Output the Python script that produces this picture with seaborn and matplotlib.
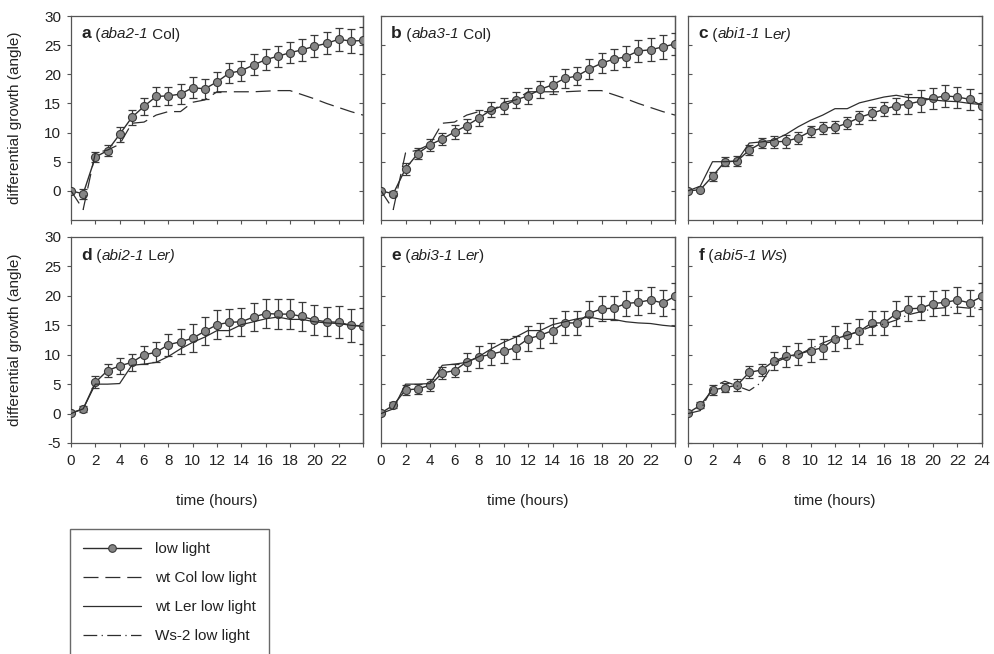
import numpy as np
import pandas as pd
import matplotlib
matplotlib.use("Agg")
import matplotlib.pyplot as plt
import seaborn as sns
from matplotlib.lines import Line2D

# ---------------- data ----------------
hours = list(range(25))

aba2_mean = [0.0, -0.5, 5.8, 6.9, 9.7, 12.6, 14.5, 16.2, 16.3, 16.6, 17.7, 17.5, 18.7,
             20.2, 20.6, 21.6, 22.5, 23.1, 23.7, 24.2, 24.8, 25.3, 26.0, 25.7, 25.8]
aba2_err = [0.0, 0.9, 0.9, 0.9, 1.3, 1.3, 1.4, 1.6, 1.6, 1.7, 1.8, 1.7, 1.7,
            1.7, 1.7, 1.8, 1.8, 1.8, 1.8, 1.9, 1.9, 1.9, 2.0, 2.1, 2.3]

aba3_mean = [0.0, -0.5, 3.8, 6.4, 7.9, 8.9, 10.1, 11.2, 12.5, 13.9, 14.6, 15.6, 16.3,
             17.4, 18.2, 19.3, 19.7, 20.9, 21.9, 22.6, 23.0, 24.0, 24.2, 24.7, 25.2]
aba3_err = [0.0, 0.4, 1.0, 0.9, 1.0, 1.1, 1.2, 1.2, 1.3, 1.3, 1.4, 1.4, 1.4,
            1.5, 1.5, 1.6, 1.6, 1.7, 1.7, 1.8, 1.8, 1.9, 2.0, 2.0, 1.9]

abi1_mean = [0.0, 0.2, 2.5, 5.0, 5.1, 7.0, 8.2, 8.4, 8.5, 9.1, 10.2, 10.8, 10.9,
             11.6, 12.6, 13.3, 14.0, 14.6, 14.9, 15.4, 15.9, 16.3, 16.1, 15.7, 14.6]
abi1_err = [0.0, 0.2, 0.8, 0.8, 0.8, 0.9, 0.9, 1.0, 1.1, 1.0, 1.0, 1.0, 1.0,
            1.0, 1.1, 1.1, 1.2, 1.4, 1.7, 1.9, 1.8, 1.9, 1.8, 1.8, 2.2]

abi2_mean = [0.1, 0.8, 5.3, 7.3, 8.1, 8.7, 10.0, 10.4, 11.7, 12.2, 12.8, 14.0, 15.1,
             15.5, 15.6, 16.4, 17.0, 16.9, 16.9, 16.5, 15.9, 15.6, 15.5, 15.0, 14.9]
abi2_err = [0.0, 0.5, 1.0, 1.1, 1.4, 1.5, 1.5, 1.7, 1.9, 2.1, 2.4, 2.4, 2.5,
            2.3, 2.4, 2.4, 2.4, 2.5, 2.5, 2.5, 2.5, 2.5, 2.7, 2.8, 3.0]

abi3_mean = [0.1, 1.4, 4.0, 4.2, 4.8, 6.9, 7.3, 8.8, 9.6, 10.1, 10.6, 11.2, 12.7,
             13.3, 14.1, 15.4, 15.4, 17.0, 17.8, 17.9, 18.7, 18.9, 19.3, 18.8, 19.9]
abi3_err = [0.0, 0.5, 0.8, 0.8, 1.0, 1.0, 1.1, 1.5, 1.8, 1.9, 2.0, 2.0, 2.1,
            2.1, 2.1, 2.1, 2.1, 2.1, 2.1, 2.0, 2.1, 2.1, 2.2, 2.2, 2.2]

abi5_mean = [0.1, 1.4, 4.0, 4.4, 4.8, 7.0, 7.4, 8.9, 9.7, 10.1, 10.7, 11.2, 12.7,
             13.3, 14.0, 15.4, 15.4, 17.0, 17.8, 17.9, 18.7, 18.9, 19.3, 18.8, 19.9]
abi5_err = [0.0, 0.5, 0.8, 0.8, 1.0, 1.0, 1.1, 1.5, 1.8, 1.9, 2.0, 2.0, 2.1,
            2.1, 2.1, 2.1, 2.1, 2.1, 2.1, 2.0, 2.1, 2.1, 2.2, 2.2, 2.2]

wt_col = [0.0, -3.2, 6.5, 7.0, 8.0, 11.6, 11.8, 13.0, 13.6, 13.6, 15.2, 15.6, 17.0,
          17.0, 17.0, 17.0, 17.1, 17.2, 17.2, 16.5, 15.8, 15.0, 14.3, 13.6, 13.0]
wt_ler = [0.0, 0.8, 5.0, 5.0, 5.1, 8.2, 8.4, 8.7, 9.7, 11.0, 12.1, 13.0, 14.1,
          14.1, 15.1, 15.6, 16.1, 16.4, 16.0, 16.0, 15.6, 15.4, 15.3, 15.0, 14.8]
ws2 = [0.0, 0.5, 4.5, 5.5, 4.7, 3.9, 5.3, 8.6, 9.5, 10.0, 11.0, 12.0, 12.8,
       13.3, 14.0, 14.8, 15.2, 15.9, 16.8, 17.3, 17.8, 18.0, 18.1, 17.9, 18.0]

legend_labels = ["low light", "wt Col low light", "wt Ler low light", "Ws-2 low light"]

# ---------------- style ----------------
sns.set_theme(style="ticks")
plt.rcParams["font.family"] = ["Liberation Sans", "DejaVu Sans"]
TXT = "#222222"
SPINE = "#555555"
plt.rcParams.update({
    "text.color": TXT, "axes.labelcolor": TXT,
    "xtick.color": SPINE, "ytick.color": SPINE,
    "xtick.labelcolor": TXT, "ytick.labelcolor": TXT,
    "axes.unicode_minus": False,
})
FS = 11

LINE = "#2e2e2e"
MFACE = "#858585"
MEDGE = "#3a3a3a"
DASH = (0, (12, 5.5))
DASHDOT = (0, (11, 3.5, 1, 3.5))

W, H = 994, 654
fig = plt.figure(figsize=(W / 100, H / 100), dpi=100)

cols_px = [(71, 363), (381, 675), (688, 982)]
rows_px = [(16, 220), (237, 443)]

panels = [
    dict(mean=aba2_mean, err=aba2_err, wt=wt_col, ls=DASH,
         title=[("a", "bold"), (" (", "normal"), ("aba2-1", "italic"), (" Col)", "normal")]),
    dict(mean=aba3_mean, err=aba3_err, wt=wt_col, ls=DASH,
         title=[("b", "bold"), (" (", "normal"), ("aba3-1", "italic"), (" Col)", "normal")]),
    dict(mean=abi1_mean, err=abi1_err, wt=wt_ler, ls="-",
         title=[("c", "bold"), (" (", "normal"), ("abi1-1", "italic"), (" L", "normal"), ("er)", "italic")]),
    dict(mean=abi2_mean, err=abi2_err, wt=wt_ler, ls="-",
         title=[("d", "bold"), (" (", "normal"), ("abi2-1", "italic"), (" L", "normal"), ("er)", "italic")]),
    dict(mean=abi3_mean, err=abi3_err, wt=wt_ler, ls="-",
         title=[("e", "bold"), (" (", "normal"), ("abi3-1", "italic"), (" L", "normal"), ("er", "italic"), (")", "normal")]),
    dict(mean=abi5_mean, err=abi5_err, wt=ws2, ls=DASHDOT,
         title=[("f", "bold"), (" (", "normal"), ("abi5-1 Ws", "italic"), (")", "normal")]),
]

for i, p in enumerate(panels):
    r, c = divmod(i, 3)
    x0, x1 = cols_px[c]
    y0, y1 = rows_px[r]
    ax = fig.add_axes([x0 / W, 1 - y1 / H, (x1 - x0) / W, (y1 - y0) / H])

    df = pd.DataFrame({"hour": hours, "mean": p["mean"], "err": p["err"], "wt": p["wt"]})

    ax.errorbar(df["hour"], df["mean"], yerr=df["err"], fmt="none", ecolor=MEDGE,
                elinewidth=0.9, capsize=2.8, capthick=0.9, zorder=3)
    sns.lineplot(data=df, x="hour", y="mean", ax=ax, color=LINE, lw=1.0, marker="o",
                 markersize=5.8, markerfacecolor=MFACE, markeredgecolor=MEDGE,
                 markeredgewidth=0.8, errorbar=None, zorder=4)
    sns.lineplot(data=df, x="hour", y="wt", ax=ax, color=LINE, lw=0.9,
                 linestyle=p["ls"], errorbar=None, zorder=5)

    ax.set_xlim(0, 24)
    ax.set_ylim(-5, 30)
    ax.set_xticks(range(0, 25, 2))
    if r == 0:
        ax.set_yticks(range(0, 31, 5))
        ax.set_xticklabels([])
        ax.set_xlabel("")
    else:
        ax.set_yticks(range(-5, 31, 5))
        labs = [str(v) for v in range(0, 25, 2)]
        if c < 2:
            labs[-1] = ""
        ax.set_xticklabels(labs, fontsize=FS)
        ax.set_xlabel("time (hours)", fontsize=FS, labelpad=19)

    ax.tick_params(axis="x", direction="out", length=3, width=0.8, pad=5)
    if c == 0:
        ax.tick_params(axis="y", direction="out", length=3, width=0.8, pad=4, labelsize=FS)
        ax.set_ylabel("differential growth (angle)", fontsize=FS, labelpad=16)
    else:
        ax.tick_params(axis="y", direction="in", length=3, width=0.8, labelleft=False)
        ax.set_ylabel("")
    sec = ax.secondary_yaxis("right")
    sec.set_yticks(ax.get_yticks())
    sec.tick_params(direction="in", length=3, width=0.8, labelright=False, color=SPINE)
    sec.spines["right"].set_color(SPINE)
    sec.spines["right"].set_linewidth(0.9)

    for s in ax.spines.values():
        s.set_visible(True)
        s.set_color(SPINE)
        s.set_linewidth(0.9)

    # composite panel title
    prev = None
    for txt, style in p["title"]:
        kw = dict(fontsize=12.5 if style == "bold" else FS, color=TXT)
        if style == "bold":
            kw["fontweight"] = "bold"
        if style == "italic":
            kw["fontstyle"] = "italic"
        if prev is None:
            prev = ax.text(0.035, 0.875, txt, transform=ax.transAxes, ha="left", va="bottom", **kw)
        else:
            prev = ax.annotate(txt, xy=(1, 0), xycoords=prev, ha="left", va="bottom", **kw)

# legend
handles = [
    Line2D([0], [0], color=LINE, lw=1.0, marker="o", markersize=5.5,
           markerfacecolor=MFACE, markeredgecolor=MEDGE, markeredgewidth=0.8),
    Line2D([0], [0], color=LINE, lw=0.9, linestyle=DASH),
    Line2D([0], [0], color=LINE, lw=0.9, linestyle="-"),
    Line2D([0], [0], color=LINE, lw=0.9, linestyle=DASHDOT),
]
leg = fig.legend(handles, legend_labels, loc="upper left",
                 bbox_to_anchor=(70 / W, 1 - 529 / H), bbox_transform=fig.transFigure,
                 frameon=True, fancybox=False, edgecolor="#444444", fontsize=FS,
                 handlelength=3.8, handletextpad=0.9, labelspacing=0.98,
                 borderpad=0.85, borderaxespad=0, numpoints=1)
leg.get_frame().set_linewidth(1.0)

fig.savefig("out.png", dpi=100)
